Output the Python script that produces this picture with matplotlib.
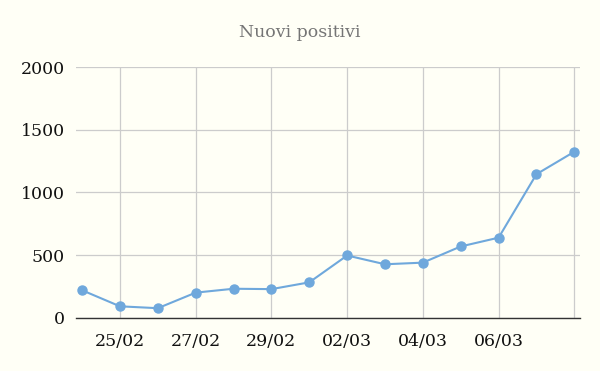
import matplotlib
matplotlib.use("Agg")
import matplotlib.pyplot as plt

dates = ["24/02", "25/02", "26/02", "27/02", "28/02", "29/02", "01/03",
         "02/03", "03/03", "04/03", "05/03", "06/03", "07/03", "08/03"]
nuovi_positivi = [221, 93, 78, 202, 233, 230, 284, 498, 428, 441, 570, 640, 1146, 1325]
yticks = [0, 500, 1000, 1500, 2000]

bg = "#fffff6"
plt.rcParams["font.family"] = ["DejaVu Serif"]

fig = plt.figure(figsize=(6, 3.71), dpi=100, facecolor=bg)
ax = fig.add_axes([0.1267, 0.1429, 0.84, 0.6765], facecolor=bg)

x = list(range(len(dates)))
ax.plot(x, nuovi_positivi, color="#6fa8dc", lw=1.5, marker="o", ms=6.5, zorder=3)

ax.set_xlim(-0.16, 13.15)
ax.set_ylim(0, 2000)
ax.set_yticks(yticks)
ax.set_yticklabels([str(v) for v in yticks])
ax.set_xticks(x[1::2])
ax.set_xticklabels([dates[i] if i < 13 else "" for i in x[1::2]])

ax.grid(True, color="#cccccc", lw=0.9)
ax.set_axisbelow(True)
for s in ["top", "right", "left"]:
    ax.spines[s].set_visible(False)
ax.spines["bottom"].set_color("#333333")
ax.spines["bottom"].set_linewidth(1)
ax.tick_params(axis="both", length=0, labelsize=12.5, colors="#111111")
ax.tick_params(axis="y", pad=8)
ax.tick_params(axis="x", pad=11)

fig.text(0.5, 0.913, "Nuovi positivi", ha="center", va="center",
         fontsize=12.5, color="#757575")

fig.savefig("out.png", dpi=100, facecolor=bg)
